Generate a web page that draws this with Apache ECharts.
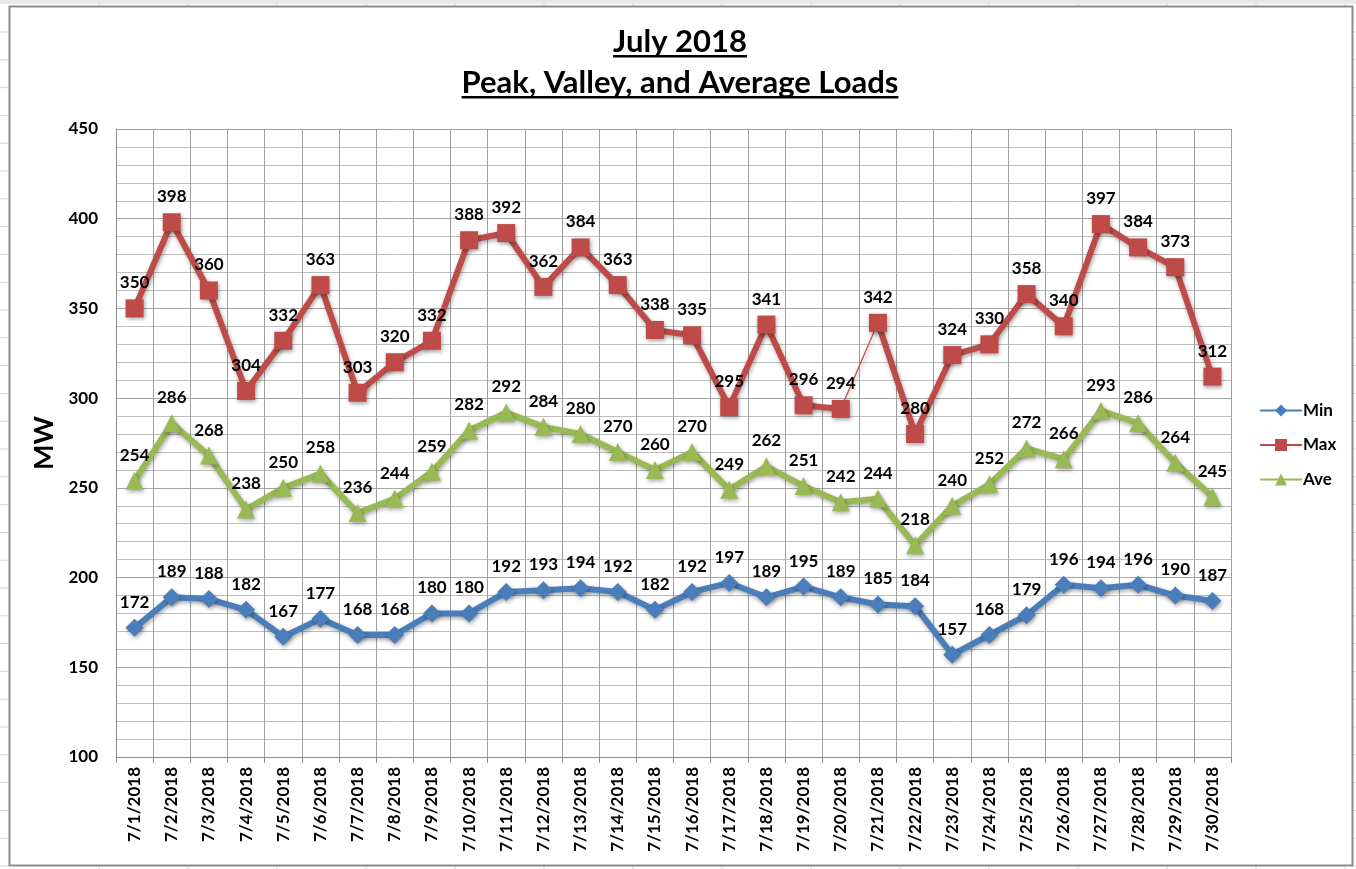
<!DOCTYPE html>
<html>
<head>
<meta charset="utf-8">
<script src="https://cdn.jsdelivr.net/npm/echarts@6/dist/echarts.min.js"></script>
<style>html,body{margin:0;padding:0;background:#fff;}#c{width:1356px;height:869px;}</style>
</head>
<body>
<div id="c"></div>
<script>
var categories = ['7/1/2018','7/2/2018','7/3/2018','7/4/2018','7/5/2018','7/6/2018','7/7/2018','7/8/2018','7/9/2018','7/10/2018','7/11/2018','7/12/2018','7/13/2018','7/14/2018','7/15/2018','7/16/2018','7/17/2018','7/18/2018','7/19/2018','7/20/2018','7/21/2018','7/22/2018','7/23/2018','7/24/2018','7/25/2018','7/26/2018','7/27/2018','7/28/2018','7/29/2018','7/30/2018'];
var minValues = [172,189,188,182,167,177,168,168,180,180,192,193,194,192,182,192,197,189,195,189,185,184,157,168,179,196,194,196,190,187];
var maxValues = [350,398,360,304,332,363,303,320,332,388,392,362,384,363,338,335,295,341,296,294,342,280,324,330,358,340,397,384,373,312];
var aveValues = [254,286,268,238,250,258,236,244,259,282,292,284,280,270,260,270,249,262,251,242,244,218,240,252,272,266,293,286,264,245];
var titleLines = ['July 2018', 'Peak, Valley, and Average Loads'];
var yTicks = { min: 100, max: 450, interval: 50 };
var thinSegmentStart = 19; // Max segment 7/20 -> 7/21 is drawn thin

var FONT = 'Lato, "Open Sans", sans-serif';
var chart = echarts.init(document.getElementById('c'));

function measure(text, size) {
  var ctx = document.createElement('canvas').getContext('2d');
  ctx.font = 'bold ' + size + 'px ' + FONT;
  return ctx.measureText(text).width;
}

var maxA = maxValues.map(function (v, i) { return i <= thinSegmentStart ? v : null; });
var maxB = maxValues.map(function (v, i) { return i >= thinSegmentStart + 1 ? v : null; });
var maxThin = maxValues.map(function (v, i) { return (i === thinSegmentStart || i === thinSegmentStart + 1) ? v : null; });

var shadow = { shadowBlur: 4, shadowColor: 'rgba(0,0,0,0.35)', shadowOffsetX: 1, shadowOffsetY: 2 };
var labelStyle = { show: true, position: 'top', distance: 8, color: '#000', fontFamily: FONT, fontWeight: 'bold', fontSize: 17 };

function lineSeries(name, data, color, symbol, size, width, showSymbol) {
  return {
    name: name, type: 'line', data: data, connectNulls: false,
    symbol: symbol, symbolSize: size, showSymbol: showSymbol,
    lineStyle: Object.assign({ color: color, width: width }, shadow),
    itemStyle: Object.assign({ color: color }, shadow),
    label: showSymbol ? labelStyle : { show: false },
    emphasis: { disabled: true },
    animation: false
  };
}

var graphics = [];
for (var x = 99; x < 1356; x += 89) {
  graphics.push({ type: 'line', shape: { x1: x, y1: 0, x2: x, y2: 6 }, style: { stroke: '#d4d4d4', lineWidth: 1 }, silent: true });
  graphics.push({ type: 'line', shape: { x1: x, y1: 866, x2: x, y2: 869 }, style: { stroke: '#d4d4d4', lineWidth: 1 }, silent: true });
}
for (var y = 32; y < 869; y += 27.8) {
  graphics.push({ type: 'line', shape: { x1: 0, y1: y, x2: 9, y2: y }, style: { stroke: '#d4d4d4', lineWidth: 1 }, silent: true });
  graphics.push({ type: 'line', shape: { x1: 1353, y1: y, x2: 1356, y2: y }, style: { stroke: '#d4d4d4', lineWidth: 1 }, silent: true });
}
graphics.push({ type: 'rect', shape: { x: 0, y: 0, width: 1356, height: 4 }, style: { fill: '#e8e8e8' }, silent: true });
graphics.push({ type: 'rect', shape: { x: 9.5, y: 6.5, width: 1343, height: 859 }, style: { fill: 'none', stroke: '#8c8c8c', lineWidth: 2 }, silent: true });

var titleSize = 31;
var titleY = [42, 83];
titleLines.forEach(function (t, i) {
  var w = measure(t, titleSize);
  graphics.push({ type: 'text', x: 680, y: titleY[i], style: { text: t, font: 'bold ' + titleSize + 'px ' + FONT, fill: '#000', align: 'center', verticalAlign: 'middle' }, silent: true });
  graphics.push({ type: 'rect', shape: { x: 680 - w / 2, y: titleY[i] + 13, width: w, height: 2.5 }, style: { fill: '#000' }, silent: true });
});

chart.setOption({
  backgroundColor: '#fff',
  animation: false,
  textStyle: { fontFamily: FONT },
  grid: { left: 116, right: 125, top: 129, bottom: 112, containLabel: false },
  legend: {
    data: ['Min', 'Max', 'Ave'],
    orient: 'vertical', left: 1254, top: 397,
    itemWidth: 42, itemHeight: 15, itemGap: 17.5,
    textStyle: { fontFamily: FONT, fontWeight: 'bold', fontSize: 17, color: '#000', padding: [0, 0, 0, -4] },
    selectedMode: false
  },
  xAxis: {
    type: 'category', data: categories, boundaryGap: true,
    axisLine: { show: true, lineStyle: { color: '#8c8c8c', width: 1 } },
    axisTick: { show: true, alignWithLabel: false, length: 6, lineStyle: { color: '#8c8c8c' } },
    axisLabel: { interval: 0, rotate: 90, margin: 10, color: '#000', fontFamily: FONT, fontWeight: 'bold', fontSize: 17 },
    splitLine: { show: true, interval: 0, lineStyle: { color: '#9e9e9e', width: 1 } }
  },
  yAxis: {
    type: 'value', min: yTicks.min, max: yTicks.max, interval: yTicks.interval,
    name: 'MW', nameLocation: 'middle', nameGap: 54, nameRotate: 90,
    nameTextStyle: { fontFamily: FONT, fontWeight: 'bold', fontSize: 27, color: '#000' },
    axisLine: { show: true, lineStyle: { color: '#8c8c8c', width: 1 } },
    axisTick: { show: false },
    axisLabel: { margin: 18, color: '#000', fontFamily: FONT, fontWeight: 'bold', fontSize: 17 },
    splitLine: { show: true, lineStyle: { color: '#a6a6a6', width: 1 } },
    minorTick: { show: false, splitNumber: 5 },
    minorSplitLine: { show: true, lineStyle: { color: '#bdbdbd', width: 1 } }
  },
  series: [
    lineSeries('Min', minValues, '#4A7EBB', 'diamond', 18, 6, true),
    lineSeries('Max', maxA, '#BE4B48', 'rect', 18, 6, true),
    lineSeries('Max', maxB, '#BE4B48', 'rect', 18, 6, true),
    lineSeries('Max', maxThin, '#BE4B48', 'none', 1, 1.2, false),
    lineSeries('Ave', aveValues, '#98B954', 'triangle', 18, 6, true)
  ],
  graphic: graphics
});
</script>
</body>
</html>
